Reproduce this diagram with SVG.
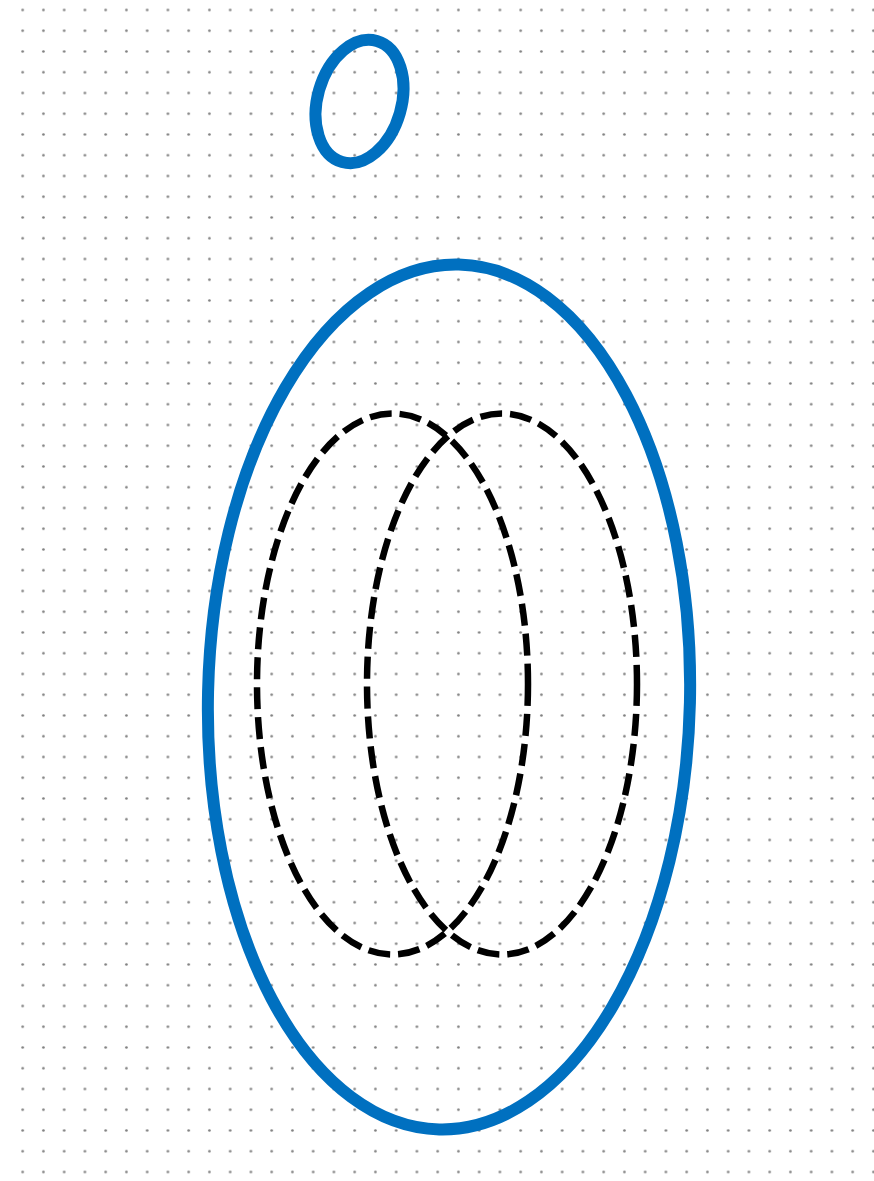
<svg xmlns="http://www.w3.org/2000/svg" width="874" height="1181" viewBox="0 0 874 1181">
  <defs>
    <pattern id="dots" patternUnits="userSpaceOnUse" x="12.3" y="-0.4" width="20.75" height="20.75">
      <circle cx="10.375" cy="10.375" r="1.35" fill="#7f7f7f"/>
    </pattern>
  </defs>
  <style>
    .blue { fill: none; stroke: #0070C0; stroke-width: 12; }
    .dash { fill: none; stroke: #000000; stroke-width: 6.5; stroke-dasharray: 22 8; }
  </style>
  <rect x="0" y="0" width="874" height="1181" fill="#ffffff"/>
  <rect x="12.3" y="0" width="861.7" height="1181" fill="url(#dots)"/>
  <g id="small-ellipse">
    <ellipse class="blue" cx="359.5" cy="101.5" rx="42" ry="63" transform="rotate(16 359.5 101.5)"/>
  </g>
  <g id="large-ellipse">
    <ellipse class="blue" cx="449" cy="697" rx="241" ry="432.5" transform="rotate(1.3 449 697)"/>
  </g>
  <g id="left-dashed-ellipse">
    <ellipse class="dash" cx="392.5" cy="684" rx="135.5" ry="270.5"/>
  </g>
  <g id="right-dashed-ellipse">
    <ellipse class="dash" cx="502" cy="684" rx="135" ry="270.5"/>
  </g>
</svg>
